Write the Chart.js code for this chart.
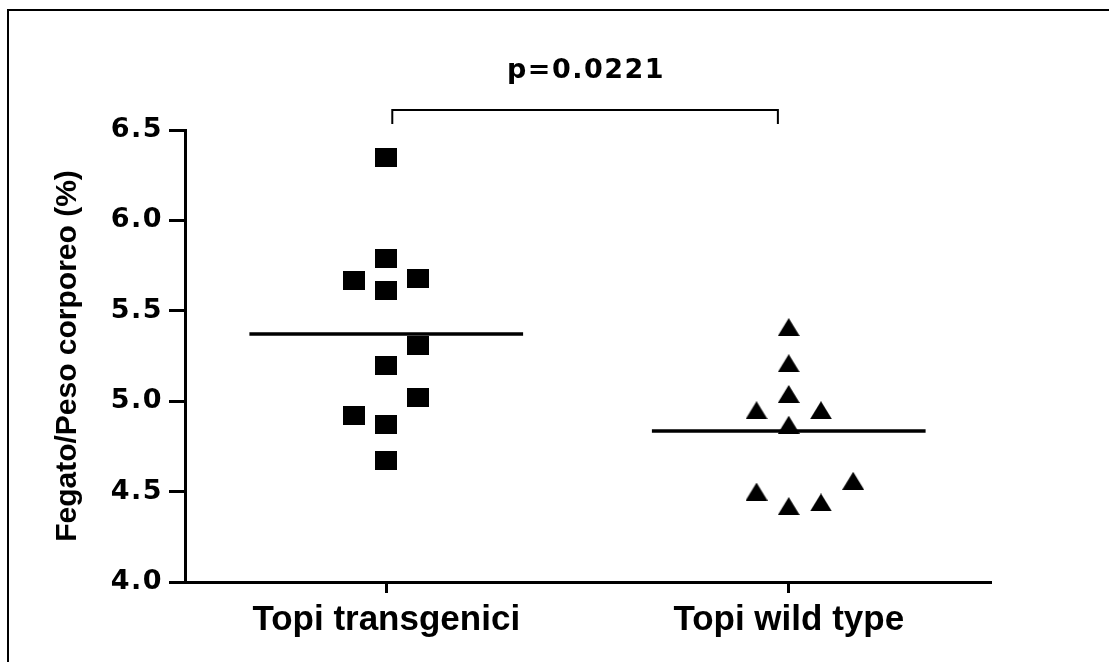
<!DOCTYPE html>
<html>
<head>
<meta charset="utf-8">
<title>Fegato/Peso corporeo</title>
<script src="https://cdn.jsdelivr.net/npm/chart.js@4.4.1/dist/chart.umd.min.js"></script>
<style>
    body { margin: 0; background: #fff; }
    #wrap { position: relative; width: 1109px; height: 662px; overflow: hidden; }
    #frame {
        position: absolute; left: 7px; top: 9px; width: 1200px; height: 800px;
        border-left: 2px solid #000; border-top: 2px solid #000;
        pointer-events: none;
    }
    canvas { position: absolute; left: 0; top: 0; }
</style>
</head>
<body>
<div id="wrap">
    <canvas id="liverChart" width="1109" height="662"></canvas>
    <div id="frame"></div>
</div>
<script>
const groups = ['Topi transgenici', 'Topi wild type'];

// fegato/peso corporeo (%), one value per animal
const transgenici = [6.35, 5.79, 5.67, 5.68, 5.61, 5.31, 5.20, 5.02, 4.92, 4.87, 4.67];
const wildType = [5.41, 5.21, 5.04, 4.95, 4.95, 4.87, 4.50, 4.42, 4.44, 4.56];

// column of each point inside its group (0 = centre)
const transgeniciCol = [0, 0, -1, 1, 0, 1, 0, 1, -1, 0, 0];
const wildTypeCol = [0, 0, 0, -1, 1, 0, -1, 0, 1, 2];

const yTicks = [4.0, 4.5, 5.0, 5.5, 6.0, 6.5];
const pLabel = 'p=0.0221';

const COL_STEP = 0.08;
const MEAN_HALF = 0.34;
const FONT = "'Liberation Sans', Arial, sans-serif";
const NUM_FONT = "'DejaVu Sans', sans-serif";

function mean(values) {
    return values.reduce((a, b) => a + b, 0) / values.length;
}

function toPoints(values, cols, groupIndex) {
    return values.map((v, i) => ({ x: groupIndex + 1 + cols[i] * COL_STEP, y: v }));
}

function meanLine(values, groupIndex) {
    const m = mean(values);
    return [{ x: groupIndex + 1 - MEAN_HALF, y: m }, { x: groupIndex + 1 + MEAN_HALF, y: m }];
}

function squareMarker() {
    const c = document.createElement('canvas');
    c.width = 22; c.height = 19;
    const g = c.getContext('2d');
    g.fillStyle = '#000';
    g.fillRect(0, 0, c.width, c.height);
    return c;
}

function triangleMarker() {
    const c = document.createElement('canvas');
    c.width = 22; c.height = 18;
    const g = c.getContext('2d');
    g.fillStyle = '#000';
    g.beginPath();
    g.moveTo(c.width / 2, 0);
    g.lineTo(c.width, c.height);
    g.lineTo(0, c.height);
    g.closePath();
    g.fill();
    return c;
}

// a little extra spacing for the numbers on the y axis
const spacedTicks = {
    id: 'spacedTicks',
    beforeDraw(chart) {
        const scale = chart.scales.y;
        if (scale.drawLabels.spaced) return;
        const draw = scale.drawLabels;
        const wrapped = function (area) {
            this.ctx.save();
            this.ctx.letterSpacing = '1.5px';
            draw.call(this, area);
            this.ctx.restore();
        };
        wrapped.spaced = true;
        scale.drawLabels = wrapped;
    }
};

// significance bracket between the two groups
const bracket = {
    id: 'bracket',
    afterDraw(chart) {
        const { ctx, chartArea } = chart;
        const x = chart.scales.x;
        const left = x.getPixelForValue(1.015);
        const right = x.getPixelForValue(1.973);
        const top = chartArea.top - 20;
        const foot = chartArea.top - 6;
        ctx.save();
        ctx.strokeStyle = '#000';
        ctx.lineWidth = 2;
        ctx.beginPath();
        ctx.moveTo(left, foot);
        ctx.lineTo(left, top);
        ctx.lineTo(right, top);
        ctx.lineTo(right, foot);
        ctx.stroke();
        ctx.font = 'bold 27px ' + NUM_FONT;
        ctx.letterSpacing = '1.5px';
        ctx.fillStyle = '#000';
        ctx.textAlign = 'center';
        ctx.textBaseline = 'alphabetic';
        ctx.fillText(pLabel, (left + right) / 2 + 1, top - 32);
        ctx.restore();
    }
};

const ctx = document.getElementById('liverChart').getContext('2d');

new Chart(ctx, {
    type: 'scatter',
    data: {
        datasets: [
            {
                label: groups[0],
                data: toPoints(transgenici, transgeniciCol, 0),
                pointStyle: squareMarker(),
                pointRadius: 11,
                backgroundColor: '#000'
            },
            {
                label: groups[1],
                data: toPoints(wildType, wildTypeCol, 1),
                pointStyle: triangleMarker(),
                pointRadius: 11,
                backgroundColor: '#000'
            },
            {
                label: 'media ' + groups[0],
                data: meanLine(transgenici, 0),
                showLine: true,
                pointRadius: 0,
                borderColor: '#000',
                borderWidth: 3.5
            },
            {
                label: 'media ' + groups[1],
                data: meanLine(wildType, 1),
                showLine: true,
                pointRadius: 0,
                borderColor: '#000',
                borderWidth: 3.5
            }
        ]
    },
    options: {
        responsive: false,
        animation: false,
        events: [],
        layout: { padding: { left: 0, top: 130, right: 119, bottom: 0 } },
        plugins: {
            legend: { display: false },
            tooltip: { enabled: false }
        },
        scales: {
            x: {
                type: 'linear',
                min: 0.5,
                max: 2.5,
                afterBuildTicks: scale => {
                    scale.ticks = groups.map((g, i) => ({ value: i + 1 }));
                },
                afterFit: scale => { scale.height = 80; },
                border: { display: true, color: '#000', width: 3 },
                grid: {
                    drawOnChartArea: false,
                    color: '#000',
                    lineWidth: 3,
                    tickLength: 11
                },
                ticks: {
                    color: '#000',
                    padding: 6,
                    maxRotation: 0,
                    autoSkip: false,
                    font: { family: FONT, size: 35, weight: 'bold' },
                    callback: value => groups[value - 1]
                }
            },
            y: {
                min: 4.0,
                max: 6.5,
                afterBuildTicks: scale => {
                    scale.ticks = yTicks.map(v => ({ value: v }));
                },
                afterFit: scale => { scale.width = 185; },
                border: { display: true, color: '#000', width: 3 },
                grid: {
                    drawOnChartArea: false,
                    color: '#000',
                    lineWidth: 3,
                    tickLength: 16
                },
                ticks: {
                    color: '#000',
                    padding: 6,
                    font: { family: NUM_FONT, size: 27, weight: 'bold' },
                    callback: value => Number(value).toFixed(1)
                },
                title: {
                    display: true,
                    text: 'Fegato/Peso corporeo (%)',
                    color: '#000',
                    padding: { top: 50, bottom: 0 },
                    font: { family: FONT, size: 30, weight: 'bold' }
                }
            }
        }
    },
    plugins: [spacedTicks, bracket]
});
</script>
</body>
</html>
